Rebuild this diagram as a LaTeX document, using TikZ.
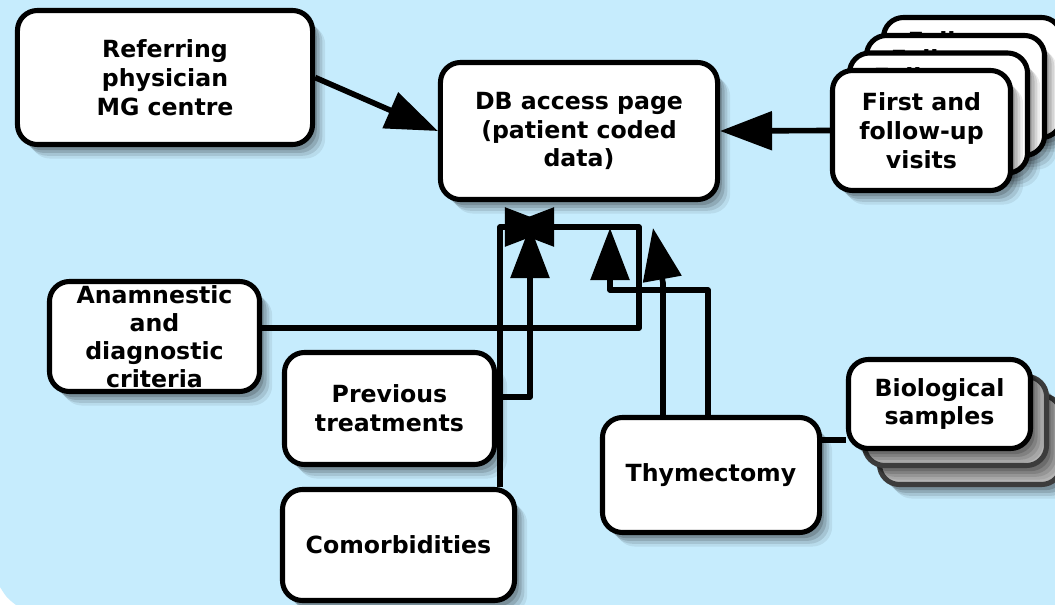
\documentclass[tikz,border=0pt]{standalone}
\usepackage{fontspec}
\setmainfont{DejaVu Sans}
\usetikzlibrary{arrows.meta, calc, shadows}
\definecolor{skyback}{HTML}{C6ECFD}
\definecolor{samplegray}{HTML}{B4B4B4}
\definecolor{sampleline}{HTML}{3C3C3C}
\pgfdeclarelayer{back}
\pgfsetlayers{back,main}

\begin{document}
\begin{tikzpicture}[x=0.025cm, y=-0.025cm,
    >={Triangle[length=1.3cm, width=0.95cm]},
    box/.style={draw, line width=3.6pt, rounded corners=0.5cm, fill=white,
        align=center, inner sep=0pt,
        font=\fontsize{16.8pt}{20.5pt}\selectfont\bfseries,
        drop shadow={shadow xshift=9pt, shadow yshift=-10pt, fill=black, opacity=.07},
        drop shadow={shadow xshift=7pt, shadow yshift=-8pt, fill=black, opacity=.1},
        drop shadow={shadow xshift=5pt, shadow yshift=-6pt, fill=black, opacity=.13},
        drop shadow={shadow xshift=3pt, shadow yshift=-4pt, fill=black, opacity=.16}},
    greybox/.style={box, fill=samplegray, draw=sampleline},
    frag/.style={anchor=base, inner sep=0pt,
        font=\fontsize{16.8pt}{20.5pt}\selectfont\bfseries},
    link/.style={line width=4pt, line join=round}
]
\useasboundingbox (0,0) rectangle (1055,605);
\begin{pgfonlayer}{back}
\fill[white] (0,0) rectangle (1055,605);
\fill[skyback] (0,0) -- (1055,0) -- (1055,605) -- (16,605) .. controls (7,598) .. (0,587) -- cycle;
\end{pgfonlayer}

\node[box, minimum width=7.375cm, minimum height=3.35cm] (ref) at (165,77.5) {Referring\\physician\\MG centre};
\node[box, minimum width=6.925cm, minimum height=3.425cm] (db) at (579,131) {DB access page\\(patient coded\\data)};

\foreach \i/\dx/\dy in {3/51/53, 2/34/35, 1/17/17.5} {
    \node[box, minimum width=4.45cm, minimum height=3cm] (vis\i) at (921.5+\dx,130.5-\dy) {};
    \node[frag] (frag\i) at ($(vis\i.north)+(0,35)$) {Follow-up};
}
\node[box, minimum width=4.45cm, minimum height=3cm] (vis) at (921.5,130.5) {First and\\follow-up\\visits};

\node[box, minimum width=5.25cm, minimum height=2.75cm, font=\fontsize{16.8pt}{20pt}\selectfont\bfseries] (anam) at (154.5,336.5) {Anamnestic\\and\\diagnostic\\criteria};
\node[box, minimum width=5.25cm, minimum height=2.8cm] (prev) at (389.5,408.5) {Previous\\treatments};
\node[box, minimum width=5.8cm, minimum height=2.775cm] (comor) at (398.5,545) {Comorbidities};
\node[box, minimum width=5.425cm, minimum height=2.875cm] (thym) at (711,475) {Thymectomy};

\foreach \i/\dx/\dy in {2/31/36, 1/16/17} {
    \node[greybox, minimum width=4.55cm, minimum height=2.225cm] (bio\i) at (939.5+\dx,404+\dy) {};
}
\node[box, minimum width=4.55cm, minimum height=2.225cm] (bio) at (939.5,404) {Biological\\samples};

\begin{pgfonlayer}{back}
\coordinate (starL) at (502,227);
\coordinate (starR) at (557,227);
\coordinate (starC) at (530,226);
\coordinate (tipA) at (653,228);
\coordinate (tipB) at (610,228);
\draw[link, ->] (ref.east) -- (db.west);
\draw[link, ->] (vis.west) -- (db.east);
\draw[link, ->] (anam.east |- 0,328) -| (639,227) -- (starL);
\draw[link, ->] (comor.north -| 500,0) |- (starR);
\draw[link, ->] (prev.east |- 0,397) -| (starC);
\draw[link, ->] (thym.north -| 663,0) -- (663,283) -- (tipA);
\draw[link, ->] (thym.north -| 708,0) |- (610,290) -- (tipB);
\draw[link] (thym.east |- 0,440) -- (bio.west |- 0,440);
\end{pgfonlayer}
\end{tikzpicture}
\end{document}
